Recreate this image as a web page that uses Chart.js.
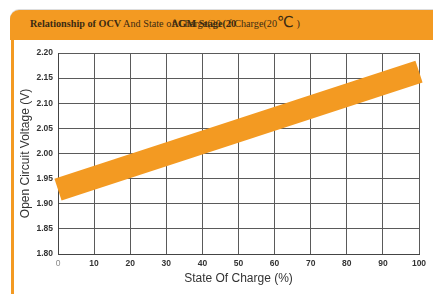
<!DOCTYPE html>
<html>
<head>
<meta charset="utf-8">
<script src="https://cdn.jsdelivr.net/npm/chart.js@4"></script>
<style>
  html, body { margin: 0; padding: 0; background: #fff; }
  body { width: 433px; height: 294px; position: relative; overflow: hidden; }
  #header {
    position: absolute; left: 10px; top: 10px; width: 423px; height: 30px;
    background: #F39A22; border-top-left-radius: 9px;
    box-shadow: 0 -1px 0 #ddd;
  }
  #leftbar { position: absolute; left: 11px; top: 40px; width: 3px; height: 254px; background: #F39A22; }
  #title {
    position: absolute; left: 30px; top: 17px; white-space: nowrap;
    font-family: "Liberation Serif", serif; font-size: 10.2px; color: #3b2a12; line-height: 14px;
  }
  #title .mess { display: inline-block; width: 57px; white-space: nowrap; }
  #title .deg { font-family: "DejaVu Sans", sans-serif; font-size: 15px; line-height: 10px; }
  #chart { position: absolute; left: 0; top: 0; }
</style>
</head>
<body>
<div id="header"></div>
<div id="leftbar"></div>
<div id="title"><b>Relationship of OCV</b> And State o<span class="mess"><b>AGM Stage(20</b><span style="margin-left:-64px">f Charge(20</span></span>f Charge(20<span class="deg">℃</span> )</div>
<canvas id="chart" width="433" height="294"></canvas>
<script>
// chart data
const socValues = [0, 100];
const ocvValues = [1.928, 2.163];
const xTicks = [0, 10, 20, 30, 40, 50, 60, 70, 80, 90, 100];
const yTicks = [1.80, 1.85, 1.90, 1.95, 2.00, 2.05, 2.10, 2.15, 2.20];

document.addEventListener("DOMContentLoaded", () => {
  const ctx = document.getElementById('chart').getContext('2d');
  new Chart(ctx, {
    type: 'line',
    data: {
      datasets: [{
        data: socValues.map((x, i) => ({ x: x, y: ocvValues[i] })),
        borderColor: '#F39A22',
        borderWidth: 23,
        borderCapStyle: 'butt',
        pointRadius: 0,
        tension: 0,
        clip: false
      }]
    },
    options: {
      responsive: false,
      animation: false,
      plugins: { legend: { display: false }, tooltip: { enabled: false } },
      layout: { padding: { left: 14, right: 14, top: 53, bottom: 0 } },
      scales: {
        x: {
          type: 'linear', min: 0, max: 100,
          afterBuildTicks: s => { s.ticks = xTicks.map(v => ({ value: v })); },
          afterFit: s => { s.height = 40; },
          grid: { color: '#5a5a5a', lineWidth: 1, drawTicks: false },
          border: { color: '#444', width: 1 },
          ticks: {
            padding: 5,
            color: c => c.index === 0 ? '#888' : '#333',
            font: c => ({ family: 'Arial, "Liberation Sans"', size: 8.5, weight: c.index === 0 ? 'normal' : 'bold' })
          },
          title: {
            display: true, text: 'State Of Charge (%)', color: '#333',
            font: { family: 'Arial, "Liberation Sans"', size: 12 },
            padding: { top: 0, bottom: 8 }
          }
        },
        y: {
          min: 1.8, max: 2.2,
          afterBuildTicks: s => { s.ticks = yTicks.map(v => ({ value: v })); },
          afterFit: s => { s.width = 44; },
          grid: { color: '#5a5a5a', lineWidth: 1, drawTicks: false },
          border: { color: '#444', width: 1 },
          ticks: {
            padding: 5,
            color: '#333',
            callback: v => v.toFixed(2),
            font: { family: 'Arial, "Liberation Sans"', size: 8.5, weight: 'bold' }
          },
          title: {
            display: true, text: 'Open Circuit Voltage (V)', color: '#333',
            font: { family: 'Arial, "Liberation Sans"', size: 12 },
            padding: { top: 4, bottom: 0 }
          }
        }
      }
    }
  });
});
</script>
</body>
</html>
